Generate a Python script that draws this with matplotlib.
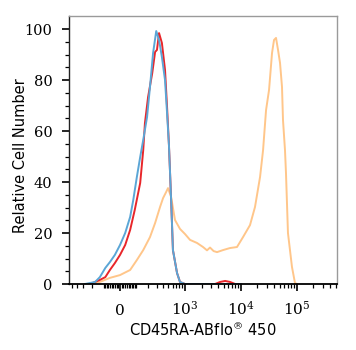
import matplotlib
matplotlib.use("Agg")
import matplotlib.pyplot as plt
from matplotlib.ticker import FixedLocator, NullFormatter

plt.rcParams['mathtext.fontset'] = 'dejavuserif'

# fluorescence intensity (x) and relative cell number (y) for each histogram
blue_x = [-280, -170, -130, -90, -60, -30, 0, 30, 60, 80, 105, 130, 155, 190,
          220, 255, 295, 335, 380, 435, 475, 515, 565, 610, 725, 820, 1010, 10000]
blue_y = [0, 0.8, 2.7, 6.3, 8.6, 11.4, 15.3, 20, 26.3, 32.9, 42, 49.8, 56.5, 65.5,
          77.3, 90.6, 99.2, 95.7, 89, 80, 67, 54.5, 33, 13.3, 4.3, 0.8, 0, 0]

red_x = [-220, -130, -90, -60, -30, 0, 30, 60, 90, 130, 155, 170, 200, 245, 280,
         305, 335, 380, 435, 475, 515, 565, 610, 725, 820, 1010, 3500, 4300,
         5300, 6500, 8000, 10000]
red_y = [0, 1.6, 2.7, 5.5, 8.2, 11.4, 15.3, 21.2, 29, 39.6, 52.5, 63.1, 73.3, 82.7,
         91, 91.8, 98.4, 94.5, 84, 69.4, 54.5, 33, 13.3, 4.3, 0.8, 0, 0, 0.8,
         1.2, 0.8, 0, 0]

orange_x = [-255, -130, -60, 0, 60, 105, 155, 220, 280, 350, 400, 455, 495, 565,
            665, 820, 1010, 1245, 1660, 2130, 2510, 2840, 3300, 3790, 4850, 6460,
            8630, 11060, 14740, 18100, 22300, 25230, 28530, 32270, 36490, 39600,
            43000, 46700, 50700, 55000, 57300, 62200, 64800, 70300, 82900, 93800,
            101800]
orange_y = [0, 0.8, 2.4, 3.5, 5.5, 9.4, 13.3, 18.4, 23.9, 30.2, 33.7, 36, 37.6, 34.1,
            25.1, 21.6, 19.6, 17.3, 16.1, 14.5, 13.2, 14.3, 12.9, 12.5, 13.3, 14.1,
            14.5, 18.4, 23.1, 30.2, 42, 52.5, 68.2, 76.1, 90.6, 95.7,
            96.5, 91.8, 86.7, 77.3, 64.3, 52.5, 43.5, 20, 6.7, 0.4,
            0]

x_major = [0, 1000, 10000, 100000]
x_major_labels = ['0', r'$10^{3}$', r'$10^{4}$', r'$10^{5}$']
x_minor = ([-500, -400, -300, -200] + list(range(-100, 101, 10)) +
           [200, 300, 400, 500, 600, 700, 800, 900] +
           [2000, 3000, 4000, 5000, 6000, 7000, 8000, 9000] +
           [20000, 30000, 40000, 50000, 60000, 70000, 80000, 90000] +
           [200000, 300000, 400000, 500000])
y_major = [0, 20, 40, 60, 80, 100]
y_minor = list(range(0, 105, 5))

fig = plt.figure(figsize=(3.56, 3.5), dpi=100)
ax = fig.add_axes([69 / 356, 66 / 350, 268 / 356, 268 / 350])

ax.plot(orange_x, orange_y, color='#FFC68A', lw=1.4)
ax.plot(red_x, red_y, color='#E8262A', lw=1.4)
ax.plot(blue_x, blue_y, color='#5BA6D6', lw=1.4)

ax.set_xscale('asinh', linear_width=140)
ax.set_xlim(-563, 529000)
ax.set_ylim(0, 105.1)

ax.xaxis.set_major_locator(FixedLocator(x_major))
ax.xaxis.set_minor_locator(FixedLocator(x_minor))
ax.xaxis.set_minor_formatter(NullFormatter())
ax.set_xticks(x_major, x_major_labels)
ax.yaxis.set_major_locator(FixedLocator(y_major))
ax.yaxis.set_minor_locator(FixedLocator(y_minor))
ax.yaxis.set_minor_formatter(NullFormatter())

ax.tick_params(axis='both', which='major', direction='out', length=5, width=1.2,
               labelsize=10.5, color='black')
ax.tick_params(axis='both', which='minor', direction='out', length=3, width=0.9,
               color='black')
ax.tick_params(axis='y', which='major', pad=7)
ax.tick_params(axis='x', which='major', pad=17, labelsize=11)
for lab in ax.get_xticklabels():
    lab.set_family('DejaVu Serif')
    lab.set_verticalalignment('baseline')
for lab in ax.get_yticklabels():
    lab.set_family('DejaVu Serif')

for side in ['top', 'right']:
    ax.spines[side].set_color('#9a9a9a')
    ax.spines[side].set_linewidth(1.0)
ax.spines['left'].set_color('#222222')
ax.spines['left'].set_linewidth(1.0)
ax.spines['bottom'].set_color('black')
ax.spines['bottom'].set_linewidth(1.3)

ax.set_ylabel('Relative Cell Number', fontsize=10.5, family='DejaVu Sans')
ax.yaxis.set_label_coords(-0.152, 0.48)
ax.set_xlabel(r'CD45RA-ABflo$^{\circledR}$ 450', fontsize=10.5, family='DejaVu Sans',
              labelpad=3)

fig.savefig('out.png', dpi=100)
